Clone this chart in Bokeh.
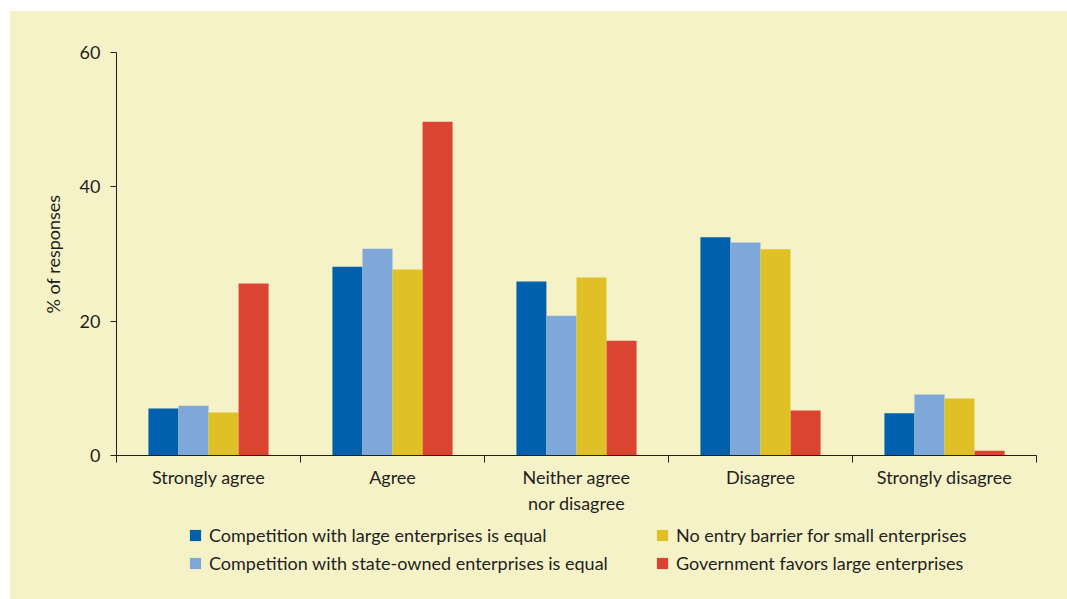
from bokeh.plotting import figure
from bokeh.models import Range1d, FixedTicker, Legend, LegendItem
from bokeh.layouts import column
from bokeh.embed import file_html
from bokeh.resources import INLINE

categories = ["Strongly agree", "Agree", "Neither agree\nnor disagree", "Disagree", "Strongly disagree"]
series_names = [
    "Competition with large enterprises is equal",
    "Competition with state-owned enterprises is equal",
    "No entry barrier for small enterprises",
    "Government favors large enterprises",
]
large_equal = [7.0, 28.1, 25.9, 32.5, 6.3]
state_equal = [7.4, 30.8, 20.8, 31.7, 9.1]
no_barrier = [6.4, 27.7, 26.5, 30.7, 8.5]
gov_favors = [25.6, 49.7, 17.1, 6.7, 0.7]
y_ticks = [0, 20, 40, 60]

series_values = [large_equal, state_equal, no_barrier, gov_favors]
colors = ["#0060ac", "#7fa8d9", "#dfc125", "#db4430"]
offsets = [-0.245, -0.0815, 0.0815, 0.245]
bar_w = 0.163

BG = "#f6f2c8"
INK = "#231f20"
FONT = "Lato"
FS = "18px"

p = figure(width=1057, height=510, output_backend="svg", toolbar_location=None,
           x_range=Range1d(0, len(categories)), y_range=Range1d(0, 60),
           min_border_left=106, min_border_right=31, min_border_top=41, min_border_bottom=66,
           background_fill_color=BG, border_fill_color=BG, outline_line_color=None,
           styles={"background-color": BG})

renderers = []
centers = [i + 0.5 for i in range(len(categories))]
for vals, col, off in zip(series_values, colors, offsets):
    r = p.vbar(x=[c + off for c in centers], top=vals, bottom=0, width=bar_w,
               fill_color=col, line_color=None)
    renderers.append(r)

p.xgrid.visible = False
p.ygrid.visible = False

xa = p.xaxis[0]
xa.ticker = FixedTicker(ticks=centers, minor_ticks=list(range(len(categories) + 1)))
xa.major_label_overrides = {c: lab for c, lab in zip(centers, categories)}
xa.major_tick_out = 0
xa.major_tick_in = 0
xa.minor_tick_out = 7
xa.minor_tick_in = 0
xa.minor_tick_line_color = INK
xa.axis_line_color = INK
xa.major_label_text_font = FONT
xa.major_label_text_font_size = FS
xa.major_label_text_color = INK
xa.major_label_standoff = 3

ya = p.yaxis[0]
ya.ticker = FixedTicker(ticks=y_ticks, minor_ticks=[])
ya.major_tick_out = 6
ya.major_tick_in = 0
ya.major_tick_line_color = INK
ya.axis_line_color = INK
ya.major_label_text_font = FONT
ya.major_label_text_font_size = FS
ya.major_label_text_color = INK
ya.major_label_standoff = 10
ya.axis_label = "% of responses"
ya.axis_label_text_font = FONT
ya.axis_label_text_font_size = FS
ya.axis_label_text_font_style = "normal"
ya.axis_label_text_color = INK
ya.axis_label_standoff = 13

# legend strip below the chart (its frame is aligned with the chart frame)
lf = figure(width=1057, height=78, output_backend="svg", toolbar_location=None,
            x_axis_type=None, y_axis_type=None, min_border=0,
            x_range=Range1d(0, 1), y_range=Range1d(0, 1),
            background_fill_color=BG, border_fill_color=BG, outline_line_color=None,
            styles={"background-color": BG})
lf.xgrid.visible = False
lf.ygrid.visible = False
# hidden swatch renderers used only to draw the legend keys
swatches = [lf.vbar(x=[0], top=[0], width=0.1, fill_color=c, line_color=None, visible=False)
            for c in colors]


def make_legend(idx, loc):
    items = [LegendItem(label=series_names[i], renderers=[swatches[i]]) for i in idx]
    lg = Legend(items=items, location=loc, orientation="vertical",
                glyph_width=14, glyph_height=14, label_height=22, spacing=6,
                label_standoff=7, padding=0, margin=0,
                border_line_color=None, background_fill_alpha=0,
                label_text_font=FONT, label_text_font_size=FS, label_text_color=INK)
    lf.add_layout(lg, "center")


make_legend([0, 1], (72, 25))
make_legend([2, 3], (539, 25))

layout = column(p, lf, spacing=0, margin=(11, 0, 0, 10), styles={"background-color": BG})

open("out.html", "w").write(file_html(layout, INLINE))
